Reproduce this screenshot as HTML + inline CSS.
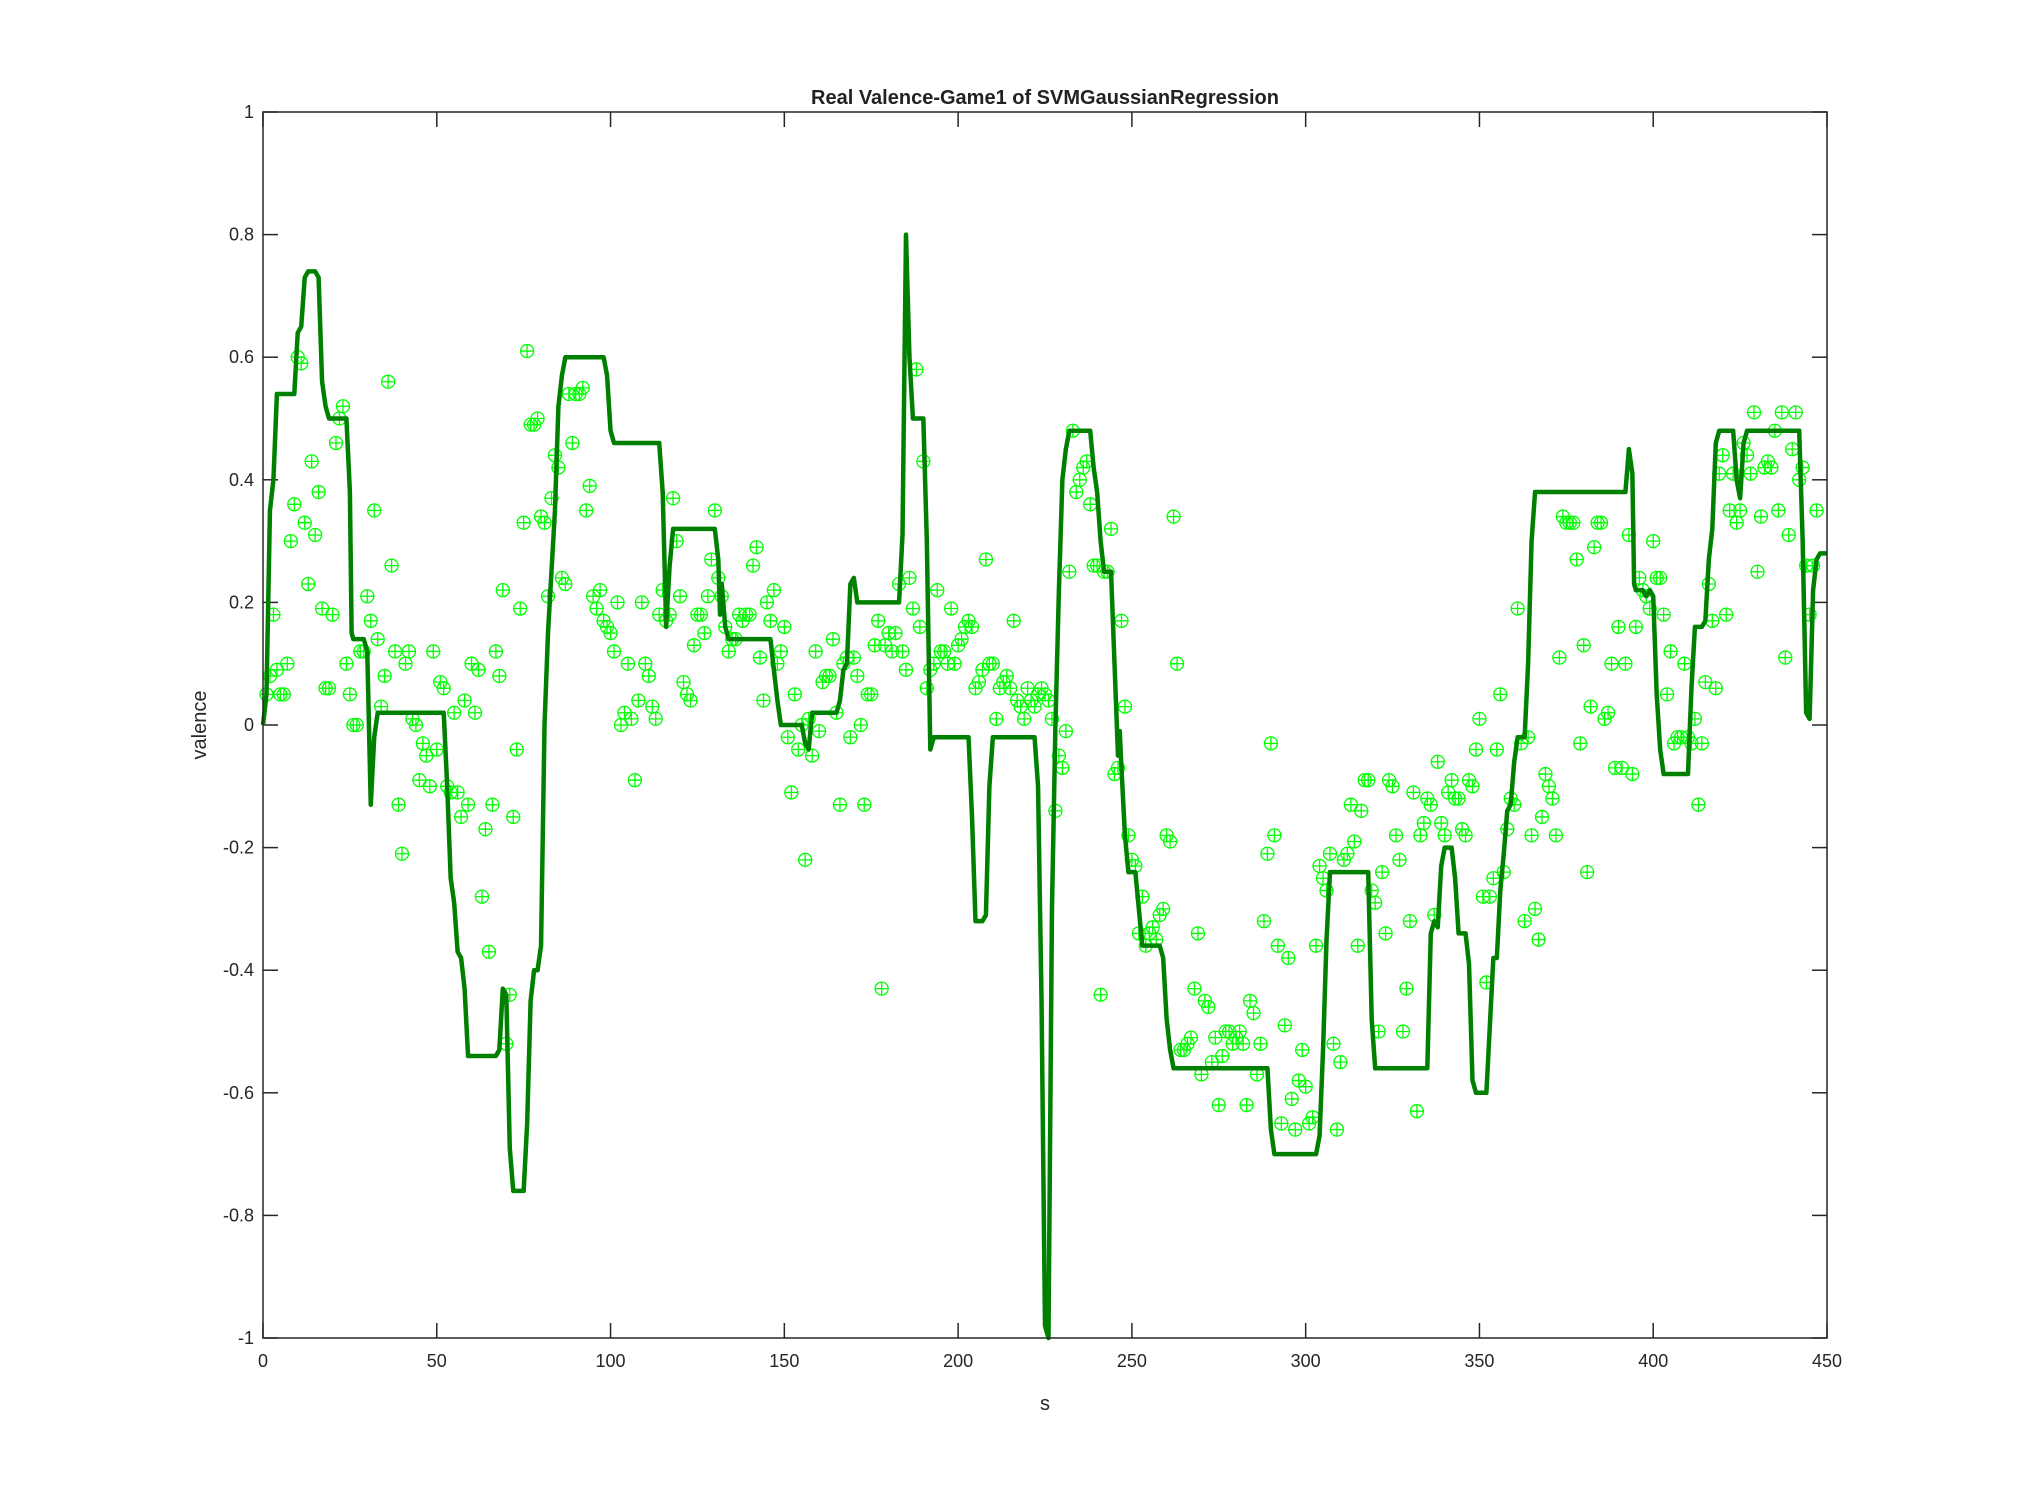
<!DOCTYPE html>
<html><head><meta charset="utf-8"><style>
html,body{margin:0;padding:0;background:#fff;}
svg{display:block;font-family:"Liberation Sans",Arial,sans-serif;}
</style></head><body>
<svg id="chart" width="2019" height="1503" viewBox="0 0 2019 1503" xmlns="http://www.w3.org/2000/svg">
<rect x="0" y="0" width="2019" height="1503" fill="#fff"/>
<text x="1045" y="104" font-size="20" font-weight="bold" text-anchor="middle" fill="#222">Real Valence-Game1 of SVMGaussianRegression</text>
<text x="1045" y="1410" font-size="20" text-anchor="middle" fill="#262626">s</text>
<text x="206" y="725" font-size="20" text-anchor="middle" fill="#262626" transform="rotate(-90 206 725)">valence</text>
<g id="axes"></g>
<g id="scatter"></g>
<g id="line"></g>
<rect x="263" y="112" width="1564" height="1226" fill="none" stroke="#262626" stroke-width="1.5"/>
</svg>
<script>
const xTicks=[0,50,100,150,200,250,300,350,400,450];
const yTicks=[-1,-0.8,-0.6,-0.4,-0.2,0,0.2,0.4,0.6,0.8,1];
const yTickLabels=["-1","-0.8","-0.6","-0.4","-0.2","0","0.2","0.4","0.6","0.8","1"];
const lineX=[0,1,2,3,4,9,10,11,12,13,15,16,17,18,19,24,25,25.5,26,29,30,31,32,33,52,53,54,55,56,57,58,59,67,68,69,70,71,72,75,76,77,78,79,80,81,82,83,84,85,86,87,98,99,100,101,114,115,116,117,118,130,131,131.5,132,133,134,146,147,148,149,155,156,157,158,165,166,167,168,169,170,171,183,184,185,186,187,190,191,192,193,203,204,205,207,208,209,210,222,223,224,225,226,227,228,229,230,231,232,238,239,240,241,242,244,245,246,246.5,247,248,249,251,252,253,258,259,260,261,262,289,290,291,303,304,305,306,307,318,319,320,335,336,337,338,339,340,342,343,344,346,347,348,349,352,353,354,355,356,357,358,359,360,361,363,364,365,366,392,393,394,394.5,395,397,398,399,400,401,402,403,410,411,412,414,415,416,417,418,419,423,424,425,426,427,442,443,444,445,446,447,448,450];
const lineY=[0,0.05,0.35,0.4,0.54,0.54,0.64,0.65,0.73,0.74,0.74,0.73,0.56,0.52,0.50,0.50,0.38,0.15,0.14,0.14,0.12,-0.13,-0.02,0.02,0.02,-0.1,-0.25,-0.29,-0.37,-0.38,-0.43,-0.54,-0.54,-0.53,-0.43,-0.44,-0.69,-0.76,-0.76,-0.65,-0.45,-0.40,-0.40,-0.36,0.0,0.15,0.25,0.35,0.52,0.57,0.60,0.60,0.57,0.48,0.46,0.46,0.38,0.16,0.26,0.32,0.32,0.27,0.18,0.23,0.16,0.14,0.14,0.09,0.04,0.0,0.0,-0.03,-0.04,0.02,0.02,0.04,0.09,0.10,0.23,0.24,0.20,0.20,0.31,0.80,0.60,0.50,0.50,0.30,-0.04,-0.02,-0.02,-0.15,-0.32,-0.32,-0.31,-0.10,-0.02,-0.02,-0.10,-0.45,-0.98,-1.0,-0.30,0.0,0.22,0.40,0.45,0.48,0.48,0.42,0.38,0.30,0.25,0.25,0.10,-0.05,-0.01,-0.07,-0.18,-0.24,-0.24,-0.30,-0.36,-0.36,-0.38,-0.48,-0.53,-0.56,-0.56,-0.66,-0.70,-0.70,-0.67,-0.53,-0.35,-0.24,-0.24,-0.48,-0.56,-0.56,-0.34,-0.32,-0.33,-0.23,-0.20,-0.20,-0.25,-0.34,-0.34,-0.39,-0.58,-0.60,-0.60,-0.49,-0.38,-0.38,-0.27,-0.21,-0.14,-0.13,-0.06,-0.02,-0.02,0.10,0.30,0.38,0.38,0.45,0.41,0.23,0.22,0.22,0.21,0.22,0.21,0.05,-0.04,-0.08,-0.08,0.06,0.16,0.16,0.17,0.27,0.32,0.46,0.48,0.48,0.40,0.37,0.46,0.48,0.48,0.30,0.02,0.01,0.22,0.27,0.28,0.28];
const scatterY=[0.05,0.08,0.18,0.09,0.05,0.05,0.10,0.30,0.36,0.60,0.59,0.33,0.23,0.43,0.31,0.38,0.19,0.06,0.06,0.18,0.46,0.50,0.52,0.10,0.05,0.0,0.0,0.12,0.12,0.21,0.17,0.35,0.14,0.03,0.08,0.56,0.26,0.12,-0.13,-0.21,0.10,0.12,0.01,0.0,-0.09,-0.03,-0.05,-0.10,0.12,-0.04,0.07,0.06,-0.10,-0.11,0.02,-0.11,-0.15,0.04,-0.13,0.10,0.02,0.09,-0.28,-0.17,-0.37,-0.13,0.12,0.08,0.22,-0.52,-0.44,-0.15,-0.04,0.19,0.33,0.61,0.49,0.49,0.50,0.34,0.33,0.21,0.37,0.44,0.42,0.24,0.23,0.54,0.46,0.54,0.54,0.55,0.35,0.39,0.21,0.19,0.22,0.17,0.16,0.15,0.12,0.20,0.0,0.02,0.10,0.01,-0.09,0.04,0.20,0.10,0.08,0.03,0.01,0.18,0.22,0.17,0.18,0.37,0.30,0.21,0.07,0.05,0.04,0.13,0.18,0.18,0.15,0.21,0.27,0.35,0.24,0.21,0.16,0.12,0.14,0.14,0.18,0.17,0.18,0.18,0.26,0.29,0.11,0.04,0.20,0.17,0.22,0.10,0.12,0.16,-0.02,-0.11,0.05,-0.04,0.0,-0.22,0.01,-0.05,0.12,-0.01,0.07,0.08,0.08,0.14,0.02,-0.13,0.10,0.11,-0.02,0.11,0.08,0.0,-0.13,0.05,0.05,0.13,0.17,-0.43,0.13,0.15,0.12,0.15,0.23,0.12,0.09,0.24,0.19,0.58,0.16,0.43,0.06,0.09,0.10,0.22,0.12,0.12,0.10,0.19,0.10,0.13,0.14,0.16,0.17,0.16,0.06,0.07,0.09,0.27,0.10,0.10,0.01,0.06,0.07,0.08,0.06,0.17,0.04,0.03,0.01,0.06,0.04,0.03,0.05,0.06,0.05,0.04,0.01,-0.14,-0.05,-0.07,-0.01,0.25,0.48,0.38,0.40,0.42,0.43,0.36,0.26,0.26,-0.44,0.25,0.25,0.32,-0.08,-0.07,0.17,0.03,-0.18,-0.22,-0.23,-0.34,-0.28,-0.36,-0.34,-0.33,-0.35,-0.31,-0.30,-0.18,-0.19,0.34,0.10,-0.53,-0.53,-0.52,-0.51,-0.43,-0.34,-0.57,-0.45,-0.46,-0.55,-0.51,-0.62,-0.54,-0.50,-0.50,-0.52,-0.51,-0.50,-0.52,-0.62,-0.45,-0.47,-0.57,-0.52,-0.32,-0.21,-0.03,-0.18,-0.36,-0.65,-0.49,-0.38,-0.61,-0.66,-0.58,-0.53,-0.59,-0.65,-0.64,-0.36,-0.23,-0.25,-0.27,-0.21,-0.52,-0.66,-0.55,-0.22,-0.21,-0.13,-0.19,-0.36,-0.14,-0.09,-0.09,-0.27,-0.29,-0.50,-0.24,-0.34,-0.09,-0.10,-0.18,-0.22,-0.50,-0.43,-0.32,-0.11,-0.63,-0.18,-0.16,-0.12,-0.13,-0.31,-0.06,-0.16,-0.18,-0.11,-0.09,-0.12,-0.12,-0.17,-0.18,-0.09,-0.10,-0.04,0.01,-0.28,-0.42,-0.28,-0.25,-0.04,0.05,-0.24,-0.17,-0.12,-0.13,0.19,-0.03,-0.32,-0.02,-0.18,-0.30,-0.35,-0.15,-0.08,-0.10,-0.12,-0.18,0.11,0.34,0.33,0.33,0.33,0.27,-0.03,0.13,-0.24,0.03,0.29,0.33,0.33,0.01,0.02,0.10,-0.07,0.16,-0.07,0.10,0.31,-0.08,0.16,0.24,0.22,0.21,0.19,0.30,0.24,0.24,0.18,0.05,0.12,-0.03,-0.02,-0.02,0.10,-0.02,-0.03,0.01,-0.13,-0.03,0.07,0.23,0.17,0.06,0.41,0.44,0.18,0.35,0.41,0.33,0.35,0.46,0.44,0.41,0.51,0.25,0.34,0.42,0.43,0.42,0.48,0.35,0.51,0.11,0.31,0.45,0.51,0.40,0.42,0.26,0.18,0.26,0.35];
const scatterX=scatterY.map((_,i)=>i+1);

const L=263,R=1827,T=112,B=1338,NS="http://www.w3.org/2000/svg";
const xs=v=>L+(v-0)/(450-0)*(R-L);
const ys=v=>B-(v-(-1))/2*(B-T);
function mk(tag,attrs,parent){const e=document.createElementNS(NS,tag);for(const k in attrs)e.setAttribute(k,attrs[k]);parent.appendChild(e);return e;}
const axes=document.getElementById('axes');
xTicks.forEach((t,i)=>{
  const x=xs(t);
  const a=mk('line',{x1:x,y1:B,x2:x,y2:B-15,stroke:'#262626','stroke-width':1.5},axes);
  
  
  const b=mk('line',{x1:x,y1:T,x2:x,y2:T+15,stroke:'#262626','stroke-width':1.5},axes);
  
  
  const tx=mk('text',{x:x,y:B+29,'font-size':18,'text-anchor':'middle',fill:'#262626'},axes);
  tx.textContent=String(t);
  
  
});
yTicks.forEach((t,i)=>{
  const y=ys(t);
  const a=mk('line',{x1:L,y1:y,x2:L+15,y2:y,stroke:'#262626','stroke-width':1.5},axes);
  
  
  const b=mk('line',{x1:R,y1:y,x2:R-15,y2:y,stroke:'#262626','stroke-width':1.5},axes);
  
  
  const tx=mk('text',{x:L-9,y:y+6,'font-size':18,'text-anchor':'end',fill:'#262626'},axes);
  tx.textContent=yTickLabels[i];
  
  
});
const sc=document.getElementById('scatter');
scatterX.forEach((xv,i)=>{
  const cx=xs(xv),cy=ys(scatterY[i]),r=6.5;
  const g=mk('g',{stroke:'#00ff00','stroke-width':1.3,fill:'none'},sc);
  
  
  mk('circle',{cx:cx,cy:cy,r:r},g);
  mk('path',{d:`M${cx-r} ${cy}H${cx+r}M${cx} ${cy-r}V${cy+r}`},g);
});
const ln=document.getElementById('line');
const p=mk('polyline',{points:lineX.map((x,i)=>xs(x)+','+ys(lineY[i])).join(' '),fill:'none',stroke:'#008000','stroke-width':4.5,'stroke-linejoin':'round'},ln);


</script>
</body></html>
